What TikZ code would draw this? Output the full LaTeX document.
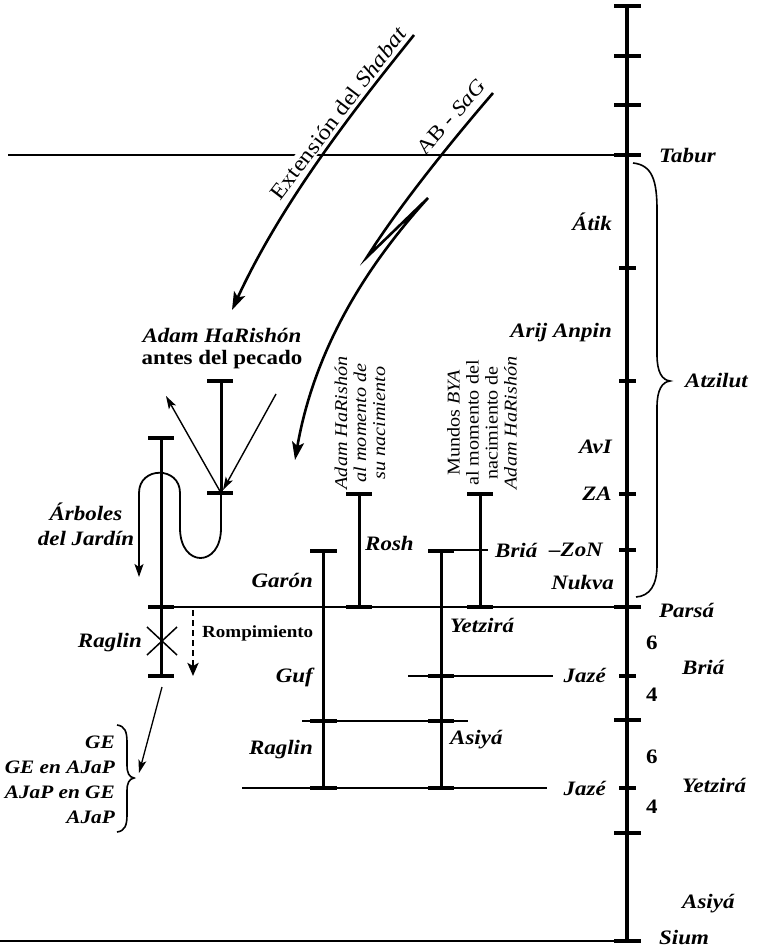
\documentclass[tikz,border=0pt]{standalone}
\usepackage{fontspec}
\setmainfont{Liberation Serif}[FakeStretch=1.12]
\usetikzlibrary{arrows.meta}
\tikzset{
 lbl/.style={font=\fontsize{20.5}{24}\selectfont\bfseries\itshape, inner sep=0pt},
 bup/.style={font=\fontsize{20.5}{24}\selectfont\bfseries, inner sep=0pt},
 vtxt/.style={font=\fontsize{18}{19}\selectfont, inner sep=0pt, rotate=90, align=center},
 gel/.style={font=\fontsize{19}{25}\selectfont\bfseries\itshape, inner sep=0pt, align=right},
 axisline/.style={line width=3.3pt},
 tickl/.style={line width=3.6pt},
 thinl/.style={line width=1.2pt},
 colline/.style={line width=3pt},
 bracel/.style={line width=1.6pt},
 bigarr/.style={line width=2.6pt, line join=miter, miter limit=25, -{Stealth[length=18pt,width=12pt,inset=4pt]}},
 smarr/.style={line width=1.4pt, -{Stealth[length=13pt,width=8pt,inset=3pt]}},
}
\begin{document}
\begin{tikzpicture}[x=1pt,y=-1pt]
\useasboundingbox (0,0) rectangle (761,949);
% thin horizontal lines
\coordinate (taburL) at (8,155);
\coordinate (taburR) at (614,155);
\draw[thinl] (taburL) -- (taburR);
\draw[thinl] (174,607) -- (614,607);
\draw[thinl] (0,941) -- (614,941);
\draw[thinl] (408,676) -- (553,676);
\draw[thinl] (242,788) -- (547,788);
\draw[thinl] (302,721) -- (468,721);
\draw[thinl] (453,550) -- (488,550);
% main axis
\draw[axisline] (627,6) -- (627,941);
\foreach \y in {6,56,105,155,607,720,833,941} \draw[tickl] (614,\y) -- (641,\y);
\foreach \y in {268,381,494,550,676,788} \draw[tickl] (619,\y) -- (636,\y);
% Atzilut brace
\draw[bracel] (633,163) .. controls (652,165) and (657,180) .. (657,210) -- (657,355)
  .. controls (657,372) and (662,380) .. (670,381)
  .. controls (662,382) and (657,390) .. (657,407) -- (657,565)
  .. controls (657,585) and (650,596) .. (636,597);
% right labels
\node[lbl, anchor=west] (tabur) at (659,156) {Tabur};
\node[lbl, anchor=west] (atzilut) at (685,381) {Atzilut};
\node[lbl, anchor=west] (parsa) at (659,610) {Parsá};
\node[bup, anchor=west] (n6a) at (646,643) {6};
\node[bup, anchor=west] (n4a) at (646,695) {4};
\node[bup, anchor=west] (n6b) at (646,757) {6};
\node[bup, anchor=west] (n4b) at (646,807) {4};
\node[lbl, anchor=west] (briaR) at (682,667) {Briá};
\node[lbl, anchor=west] (yetzR) at (682,785) {Yetzirá};
\node[lbl, anchor=west] (asiyaR) at (682,904) {Asiyá};
\node[lbl, anchor=west] (sium) at (659,937) {Sium};
% left-of-axis labels
\node[lbl, anchor=east] (atik) at (612,222) {Átik};
\node[lbl, anchor=east] (arij) at (612,333) {Arij Anpin};
\node[lbl, anchor=east] (avi) at (612,447) {AvI};
\node[lbl, anchor=east] (za) at (612,494) {ZA};
\node[lbl, anchor=east] (zon) at (603,550) {–ZoN};
\node[lbl, anchor=east] (nukva) at (614,583) {Nukva};
\node[lbl, anchor=east] (jaze1) at (606,675) {Jazé};
\node[lbl, anchor=east] (jaze2) at (606,788) {Jazé};
% middle columns
\draw[colline] (323,551) -- (323,788);
\foreach \y in {551,721,788} \draw[tickl] (310,\y) -- (337,\y);
\draw[colline] (441,551) -- (441,788);
\foreach \y in {551,676,721,788} \draw[tickl] (428,\y) -- (454,\y);
\draw[colline] (359,494) -- (359,607);
\foreach \y in {494,607} \draw[tickl] (346,\y) -- (372,\y);
\draw[colline] (480,494) -- (480,607);
\foreach \y in {494,607} \draw[tickl] (467,\y) -- (493,\y);
\node[lbl, anchor=west] (briaM) at (495,550) {Briá};
\node[lbl, anchor=west] (rosh) at (365,543) {Rosh};
\node[lbl, anchor=east] (garon) at (313,580) {Garón};
\node[lbl, anchor=east] (guf) at (313,677) {Guf};
\node[lbl, anchor=east] (raglinM) at (313,750) {Raglin};
\node[lbl, anchor=west] (yetzM) at (450,625) {Yetzirá};
\node[lbl, anchor=west] (asiyaM) at (450,740) {Asiyá};
\node[vtxt, font=\fontsize{18}{19}\selectfont\itshape] (birth) at (360,423) {Adam HaRishón\\al momento de\\su nacimiento};
\node[vtxt] (mundos) at (482,423) {Mundos \textit{BYA}\\al momento del\\nacimiento de\\\textit{Adam HaRishón}};
% tree / Adam before sin
\draw[colline] (161,438) -- (161,676);
\foreach \y in {438,607,676} \draw[tickl] (148,\y) -- (174,\y);
\draw[colline] (221,381) -- (221,493);
\foreach \y in {381,493} \draw[tickl] (207,\y) -- (233,\y);
\coordinate (adamB) at (221,493);
\draw[line width=1.8pt, -{Stealth[length=13pt,width=9pt,inset=3pt]}] (adamB) -- (221,528)
  .. controls (221,568) and (180,568) .. (180,528) -- (180,493)
  .. controls (180,466) and (139,466) .. (139,493) -- (139,577);
\coordinate (outEnd) at (166,396);
\coordinate (inStart) at (276,394);
\draw[smarr] (adamB) -- (outEnd);
\draw[smarr] (inStart) -- (223,490);
\node[lbl] (adamT) at (222,335) {Adam HaRishón};
\node[bup] (antes) at (222,360) {antes del pecado};
\node[lbl, align=center, font=\fontsize{20.5}{25}\selectfont\bfseries\itshape] (arboles) at (86,524) {Árboles\\del Jardín};
% Raglin X
\draw[line width=1.5pt] (147,627) -- (177,655) (147,655) -- (177,627);
\node[lbl, anchor=east] (raglinL) at (142,643) {Raglin};
\draw[line width=2.6pt, dash pattern=on 6pt off 4pt, -{Stealth[length=13pt,width=11pt,inset=3pt]}] (193,610) -- (193,676);
\node[font=\fontsize{17}{20}\selectfont\bfseries, inner sep=0pt, anchor=west] (romp) at (202,633) {Rompimiento};
% GE brace and labels
\node[gel, anchor=east] (ge) at (115,780) {GE\\GE en AJaP\\AJaP en GE\\AJaP};
\draw[bracel] (117,725) .. controls (125,726) and (127,732) .. (127,742) -- (127,765)
  .. controls (127,773) and (129,777) .. (134,778)
  .. controls (129,779) and (127,783) .. (127,791) -- (127,815)
  .. controls (127,825) and (125,831) .. (117,832);
\coordinate (ragB) at (162,687);
\coordinate (geTip) at (139,773);
\draw[line width=1.3pt, -{Stealth[length=13pt,width=8pt,inset=3pt]}] (ragB) -- (geTip);
% big arrows
\node[font=\fontsize{22}{24}\selectfont, inner sep=1pt, fill=white, rotate=52.7] (ext) at (338,113) {Extensión del \textit{Shabat}};
\node[font=\fontsize{21}{24}\selectfont, inner sep=0pt, rotate=48] (absag) at (451,117) {AB - \textit{SaG}};
\draw[bigarr] (414,35) .. controls (366,95) and (285,195) .. (232,310);
\draw[bigarr] (493,93) .. controls (450,143) and (400,205) .. (367,257) -- (428,198)
  .. controls (370,262) and (315,345) .. (295,460);
\end{tikzpicture}
\end{document}
